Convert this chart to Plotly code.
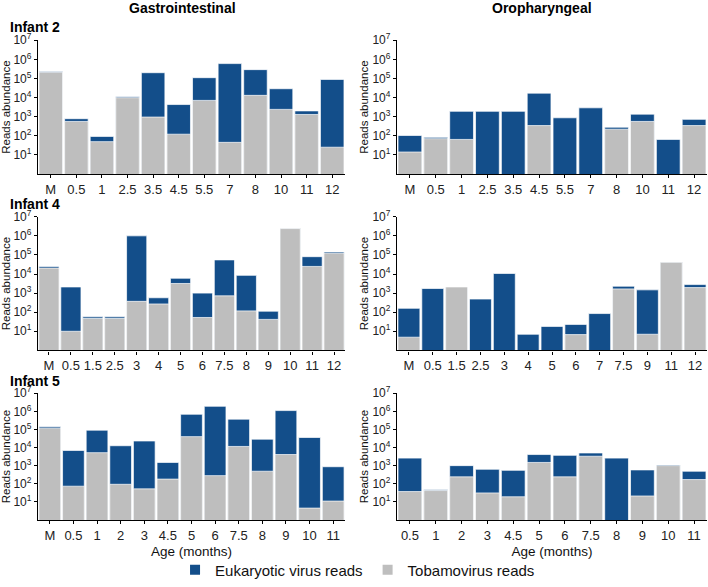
"""
reads abundance per age, infants 2/4/5, gastrointestinal vs oropharyngeal
"""

import plotly.graph_objects as go

# ages (categories) per panel
gi2_age = ['M', '0.5', '1', '2.5', '3.5', '4.5', '5.5', '7', '8', '10', '11', '12']
op2_age = ['M', '0.5', '1', '2.5', '3.5', '4.5', '5.5', '7', '8', '10', '11', '12']
gi4_age = ['M', '0.5', '1.5', '2.5', '3', '4', '5', '6', '7.5', '8', '9', '10', '11', '12']
op4_age = ['M', '0.5', '1.5', '2.5', '3', '4', '5', '6', '7', '7.5', '9', '11', '12']
gi5_age = ['M', '0.5', '1', '2', '3', '4.5', '5', '6', '7.5', '8', '9', '10', '11']
op5_age = ['0.5', '1', '2', '3', '4.5', '5', '6', '7.5', '8', '9', '10', '11']

# total reads (eukaryotic virus + tobamovirus)
gi2_total = [230000, 780, 92, 11000, 200000, 4300, 110000, 600000, 290000, 29000, 2000, 89000]
op2_total = [103, 82, 1900, 1900, 1900, 17000, 870, 2900, 280, 1350, 64, 720]
gi4_total = [25000, 2100, 57, 57, 1000000, 570, 6000, 1000, 55000, 8500, 113, 2400000, 81000, 143000]
op4_total = [160, 1740, 2100, 490, 10700, 7, 18, 23, 85, 2300, 1480, 41000, 2800]
gi5_total = [140000, 6900, 91000, 12600, 23000, 1500, 690000, 1900000, 370000, 29000, 1100000, 36000, 870]
op5_total = [2600, 46, 1000, 630, 550, 4100, 3700, 5000, 2600, 580, 1100, 490]

# tobamovirus reads (None = none detected)
gi2_tobamo = [210000, 560, 49, 9800, 950, 120, 7100, 45, 13000, 2400, 1300, 25]
op2_tobamo = [14, 70, 64, None, None, 340, None, None, 220, 560, None, 340]
gi4_tobamo = [20500, 10, 47, 47, 370, 270, 3200, 53, 720, 117, 42, 2400000, 25000, 123000]
op4_tobamo = [4.9, None, 2100, None, None, None, None, 6.7, None, 1660, 7, 41000, 1950]
gi5_tobamo = [118000, 73, 5200, 93, 52, 180, 40000, 280, 11500, 490, 4100, 4.5, 11]
op5_tobamo = [37, 42, 240, 31, 19, 1500, 240, 3300, None, 21, 1000, 170]

BLUE = '#134e8a'
GREY = '#bebebe'
FONT = 'Liberation Sans, Arial, sans-serif'

W, H = 708, 587


def px_x(v):
    return v / W


def px_y(v):
    return 1 - v / H


panels = [
    (gi2_age, gi2_total, gi2_tobamo),
    (op2_age, op2_total, op2_tobamo),
    (gi4_age, gi4_total, gi4_tobamo),
    (op4_age, op4_total, op4_tobamo),
    (gi5_age, gi5_total, gi5_tobamo),
    (op5_age, op5_total, op5_tobamo),
]

col_px = [(38, 345), (397, 707)]
row_px = [(40.7, 175.7), (219, 354), (397.3, 525.3)]

ytick_vals = [10 ** i for i in range(1, 8)]
ytick_text = ['10<sup>%d</sup>' % i for i in range(1, 8)]

fig = go.Figure()

for i, (age, total, tobamo) in enumerate(panels):
    n = i + 1
    xa = 'x' if n == 1 else 'x%d' % n
    ya = 'y' if n == 1 else 'y%d' % n
    fig.add_trace(go.Bar(x=age, y=total, xaxis=xa, yaxis=ya,
                         marker=dict(color=BLUE, line=dict(color='white', width=0.7)),
                         name='Eukaryotic virus reads', legendgroup='euk',
                         showlegend=(n == 1)))
    fig.add_trace(go.Bar(x=age, y=tobamo, xaxis=xa, yaxis=ya,
                         marker=dict(color=GREY, line=dict(color='white', width=0.7)),
                         name='Tobamovirus reads', legendgroup='tob',
                         showlegend=(n == 1)))

    r, c = divmod(i, 2)
    x0, x1 = col_px[c]
    top, bot = row_px[r]
    xkey = 'xaxis' if n == 1 else 'xaxis%d' % n
    ykey = 'yaxis' if n == 1 else 'yaxis%d' % n
    fig.update_layout({
        xkey: dict(domain=[px_x(x0), px_x(x1)], anchor=ya, type='category',
                   range=[-0.5, len(age) - 0.5], showline=True, linecolor='black',
                   linewidth=1.3, ticks='outside', ticklen=3, tickcolor='black',
                   showgrid=False, automargin=False,
                   tickfont=dict(size=13, color='#222222', family=FONT),
                   title=dict(text='Age (months)' if r == 2 else '',
                              font=dict(size=13.5, color='#111111', family=FONT),
                              standoff=4)),
        ykey: dict(domain=[px_y(bot), px_y(top)], anchor=xa, type='log',
                   range=[0, 7], showline=True, linecolor='black', linewidth=1.3,
                   ticks='outside', ticklen=3, tickcolor='black', showgrid=False,
                   zeroline=False, automargin=False,
                   tickvals=ytick_vals, ticktext=ytick_text,
                   tickfont=dict(size=12, color='#222222', family=FONT),
                   title=dict(text='Reads abundance',
                              font=dict(size=11.5, color='#111111', family=FONT),
                              standoff=1)),
    })

notes = [
    ('Gastrointestinal', 182, 8, 'center', 14),
    ('Oropharyngeal', 542, 8, 'center', 14),
    ('Infant 2', 8, 27, 'left', 14),
    ('Infant 4', 8, 206, 'left', 14),
    ('Infant 5', 8, 385, 'left', 14),
]
for text, x, y, anchor, size in notes:
    fig.add_annotation(text='<b>%s</b>' % text, x=px_x(x), y=px_y(y),
                       xref='paper', yref='paper', xanchor=anchor, yanchor='middle',
                       showarrow=False, font=dict(size=size, color='black', family=FONT))

fig.update_layout(
    width=W, height=H,
    margin=dict(l=0, r=0, t=0, b=0),
    barmode='overlay', bargap=0.08,
    plot_bgcolor='white', paper_bgcolor='white',
    font=dict(family=FONT, color='#111111'),
    legend=dict(orientation='h', x=0.505, y=px_y(576), xanchor='center', yanchor='middle',
                font=dict(size=15, family=FONT, color='#111111'),
                itemsizing='constant', traceorder='normal', itemwidth=30),
)

# page body has an 8px default margin, drop it so the figure sits at 0,0
fig.write_html("out.html", config={'displayModeBar': False},
               post_script="document.body.style.margin='0';document.body.style.overflow='hidden';")
